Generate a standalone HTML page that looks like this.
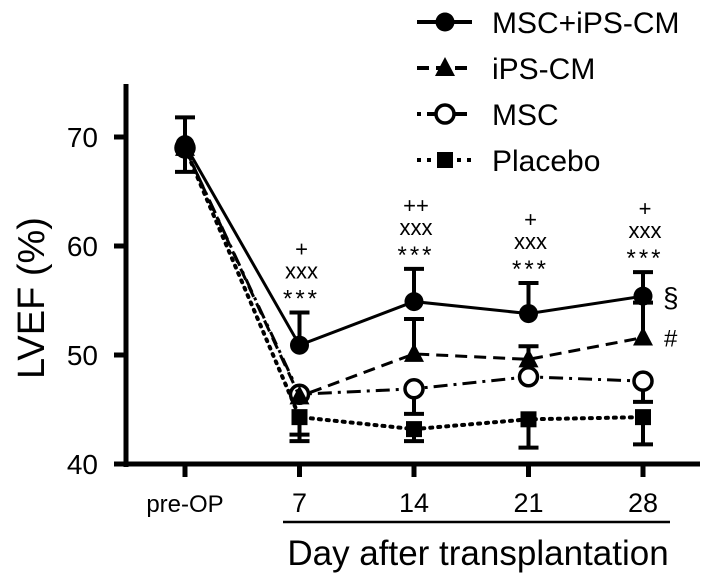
<!DOCTYPE html>
<html><head><meta charset="utf-8"><style>
html,body{margin:0;padding:0;background:#fff;}
svg{display:block;font-family:"Liberation Sans",Arial,sans-serif;}
</style></head><body>
<svg id="chart" width="709" height="583" viewBox="0 0 709 583"></svg>
<script>
const categories = ["pre-OP","7","14","21","28"];
const seriesNames = ["MSC+iPS-CM","iPS-CM","MSC","Placebo"];
const comboVals = [69.3,50.9,54.9,53.8,55.4];
const comboErr = [2.5,3.0,3.0,2.8,2.2];
const ipsVals = [69.0,46.2,50.1,49.6,51.6];
const ipsErr = [0,0,3.2,1.2,3.2];
const mscVals = [69.0,46.4,46.9,48.0,47.6];
const mscErr = [0,0,2.3,0,1.9];
const placeboVals = [69.0,44.3,43.2,44.1,44.3];
const placeboErr = [0,2.2,1.1,2.6,2.5];
const yTicks = [40,50,60,70];
const annotations = [[],["+","xxx","***"],["++","xxx","***"],["+","xxx","***"],["+","xxx","***"]];

const NS="http://www.w3.org/2000/svg";
const svg=document.getElementById('chart');
function el(t,a,p){const e=document.createElementNS(NS,t);for(const k in a)e.setAttribute(k,a[k]);(p||svg).appendChild(e);return e;}
const y=v=>464-(v-40)*10.9;
const x=i=>185+i*114.5;

const ax=el('g',{});


el('line',{x1:126,y1:84,x2:126,y2:467,stroke:'#000','stroke-width':5},ax);
el('line',{x1:115,y1:464,x2:700,y2:464,stroke:'#000','stroke-width':5},ax);
yTicks.forEach(v=>{
  el('line',{x1:114,y1:y(v),x2:126,y2:y(v),stroke:'#000','stroke-width':5},ax);
  const t=el('text',{x:98,y:y(v)+10,'text-anchor':'end','font-size':28},ax);t.textContent=v;
  
  
});
categories.forEach((c,i)=>{
  el('line',{x1:x(i),y1:464,x2:x(i),y2:477,stroke:'#000','stroke-width':5},ax);
  const t=el('text',{x:x(i),y:512,'text-anchor':'middle','font-size':i==0?24:27},ax);t.textContent=c;
  
  
});
el('line',{x1:283,y1:522,x2:670,y2:522,stroke:'#000','stroke-width':2.5},ax);
const xt=el('text',{x:478,y:565,'text-anchor':'middle','font-size':35});xt.textContent="Day after transplantation";


const yt=el('text',{x:0,y:0,'text-anchor':'middle','font-size':38,transform:'translate(44,298) rotate(-90)'});yt.textContent="LVEF (%)";



const series=[
 {vals:placeboVals,err:placeboErr,dash:'2,6',cap:'round',m:'square',name:'placebo'},
 {vals:mscVals,err:mscErr,dash:'14,6,3,6',cap:'butt',m:'open',name:'msc'},
 {vals:ipsVals,err:ipsErr,dash:'12,7',cap:'butt',m:'tri',name:'ips-cm'},
 {vals:comboVals,err:comboErr,dash:'',cap:'butt',m:'circle',name:'msc-ips-cm'}
];
function marker(g,m,cx,cy){
  if(m=='circle')el('circle',{cx,cy,r:9.5,fill:'#000'},g);
  else if(m=='open')el('circle',{cx,cy,r:9,fill:'#fff',stroke:'#000','stroke-width':3.5},g);
  else if(m=='tri')el('polygon',{points:`${cx},${cy-11} ${cx-10},${cy+8} ${cx+10},${cy+8}`,fill:'#000'},g);
  else el('rect',{x:cx-8,y:cy-8,width:16,height:16,fill:'#000'},g);
}
series.forEach(s=>{
  const g=el('g',{});
  
  
  s.vals.forEach((v,i)=>{
    if(!s.err[i])return;
    const up=(s.m=='circle'||s.m=='tri'), t=y(v+s.err[i]), b=y(v-s.err[i]);
    const e1=up?t:b;
    el('line',{x1:x(i),y1:y(v),x2:x(i),y2:e1,stroke:'#000','stroke-width':4},g);
    el('line',{x1:x(i)-10,y1:e1,x2:x(i)+10,y2:e1,stroke:'#000','stroke-width':4},g);
    if(s.m=='circle'&&i==0){el('line',{x1:x(i),y1:y(v),x2:x(i),y2:b,stroke:'#000','stroke-width':4},g);el('line',{x1:x(i)-10,y1:b,x2:x(i)+10,y2:b,stroke:'#000','stroke-width':4},g);}
    if(s.m=='square'&&i==1){el('line',{x1:x(i)-10,y1:y(v-s.err[i]+0.6),x2:x(i)+10,y2:y(v-s.err[i]+0.6),stroke:'#000','stroke-width':4},g);}
  });
  const pts=s.vals.map((v,i)=>x(i)+','+y(v)).join(' ');
  const attrs={points:pts,fill:'none',stroke:'#000','stroke-width':s.m=='square'?4:3,'stroke-linecap':s.cap};
  if(s.dash)attrs['stroke-dasharray']=s.dash;
  el('polyline',attrs,g);
  s.vals.forEach((v,i)=>marker(g,s.m,x(i),y(v)));
});

annotations.forEach((a,i)=>{
  if(!a.length)return;
  const top=comboVals[i]+comboErr[i];
  let base=y(top)-12;
  for(let k=a.length-1;k>=0;k--){
    const t=el('text',{x:x(i)+2,y:base+(a[k]=="***"?6:0),'text-anchor':'middle','font-size':a[k]=="***"?24:22,'letter-spacing':a[k]=="***"?3:0});
    t.textContent=a[k];
    
    
    base-=22;
  }
});
const s1=el('text',{x:663,y:y(comboVals[4])+11,'font-size':28});s1.textContent="§";


const s2=el('text',{x:664,y:y(ipsVals[4])+9,'font-size':24});s2.textContent="#";



const legendStyles=[
 {dash:'',m:'circle'},{dash:'12,7',m:'tri'},{dash:'4,6,12,6',m:'open'},{dash:'4,6',m:'square'}
];
seriesNames.forEach((n,i)=>{
  const g=el('g',{});
  
  
  const cy=22+i*46, ls=legendStyles[i];
  const a={x1:417,y1:cy,x2:472,y2:cy,stroke:'#000','stroke-width':4};
  if(ls.dash)a['stroke-dasharray']=ls.dash;
  el('line',a,g);
  marker(g,ls.m,445,cy);
  const t=el('text',{x:492,y:cy+11,'font-size':30},g);t.textContent=n;
});
</script>
</body></html>
